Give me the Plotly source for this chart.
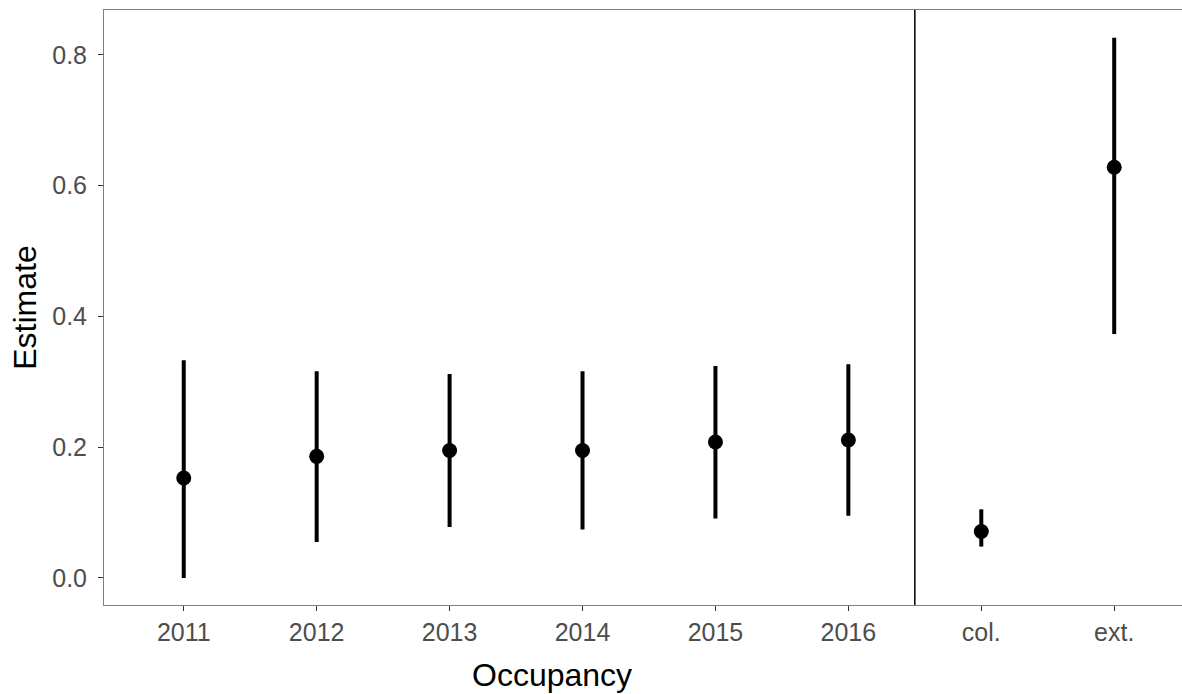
import plotly.graph_objects as go

categories = ["2011", "2012", "2013", "2014", "2015", "2016", "col.", "ext."]
estimate = [0.153, 0.186, 0.195, 0.195, 0.208, 0.211, 0.071, 0.628]
lower = [0.000, 0.055, 0.078, 0.074, 0.091, 0.095, 0.048, 0.373]
upper = [0.333, 0.316, 0.312, 0.316, 0.324, 0.327, 0.105, 0.826]
y_ticks = [0.0, 0.2, 0.4, 0.6, 0.8]
y_tick_labels = ["0.0", "0.2", "0.4", "0.6", "0.8"]

err_plus = [u - e for u, e in zip(upper, estimate)]
err_minus = [e - l for e, l in zip(estimate, lower)]

fig = go.Figure()
fig.add_trace(go.Scatter(
    x=categories, y=estimate, mode="markers",
    marker=dict(color="black", size=15),
    error_y=dict(type="data", array=err_plus, arrayminus=err_minus,
                 symmetric=False, color="black", thickness=4, width=0),
    showlegend=False,
))

fig.add_shape(type="line", xref="x", yref="paper", x0=5.5, x1=5.5, y0=0, y1=1,
              line=dict(color="black", width=1.5))

font_family = "Liberation Sans, Arial, sans-serif"
fig.add_annotation(text="Occupancy", xref="paper", yref="paper",
                   x=(552 - 104) / 1078, y=0, xanchor="center", yanchor="top",
                   yshift=-50, showarrow=False,
                   font=dict(size=32, color="black", family=font_family))

fig.update_layout(
    width=1182, height=694,
    margin=dict(l=104, r=0, t=10, b=89),
    paper_bgcolor="white", plot_bgcolor="white",
    font=dict(family=font_family, color="black"),
    xaxis=dict(
        type="category", categoryorder="array", categoryarray=categories,
        range=[-0.6, 7.51], showgrid=False, zeroline=False,
        showline=True, linecolor="#7F7F7F", linewidth=1, mirror=True,
        ticks="outside", ticklen=5, tickcolor="#333333", tickwidth=1,
        tickfont=dict(size=25, color="#4D4D4D", family=font_family),
        automargin=False,
    ),
    yaxis=dict(
        range=[-0.0413, 0.8685], showgrid=False, zeroline=False,
        showline=True, linecolor="#7F7F7F", linewidth=1,
        tickvals=y_ticks, ticktext=y_tick_labels,
        ticks="outside", ticklen=5, tickcolor="#333333", tickwidth=1,
        ticklabelstandoff=6,
        tickfont=dict(size=25, color="#4D4D4D", family=font_family),
        title=dict(text="Estimate", font=dict(size=32, color="black", family=font_family), standoff=6),
        automargin=False,
    ),
)

fig.write_html(
    "out.html",
    config={"displayModeBar": False},
    post_script="document.body.style.margin='0';document.documentElement.style.overflow='hidden';document.body.style.overflow='hidden';",
)
